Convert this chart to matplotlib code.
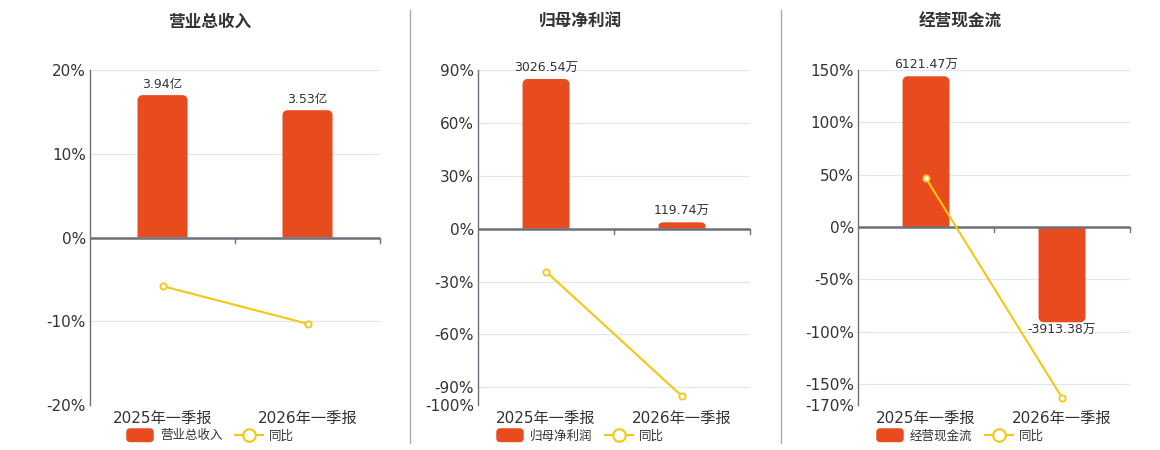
import numpy as np
import matplotlib
matplotlib.use("Agg")
import matplotlib.pyplot as plt
from matplotlib.patches import Polygon, FancyBboxPatch
from matplotlib.lines import Line2D
from matplotlib.legend_handler import HandlerPatch

plt.rcParams["font.family"] = ["DejaVu Sans", "Noto Sans CJK SC"]

categories = ["2025年一季报", "2026年一季报"]

titles = ["营业总收入", "归母净利润", "经营现金流"]
# bar heights as drawn on the percent axis, plus their value labels
bar_heights = [[17.0, 15.2], [84.9, 3.6], [144.0, -91.0]]
bar_labels = [["3.94亿", "3.53亿"], ["3026.54万", "119.74万"], ["6121.47万", "-3913.38万"]]
yoy = [[-5.8, -10.3], [-24.3, -95.0], [46.5, -163.0]]
yticks = [[-20, -10, 0, 10, 20],
          [-100, -90, -60, -30, 0, 30, 60, 90],
          [-170, -150, -100, -50, 0, 50, 100, 150]]

BAR = "#E84C1E"
LINE = "#F2C811"
AXIS = "#6E7079"
GRID = "#E0E6F1"
TEXT = "#333333"

W, H = 1160, 450
fig = plt.figure(figsize=(W / 100, H / 100), dpi=100)

boxes = [(90, 380), (478, 750), (858, 1130)]
centers = [210, 580, 960]
top_px, bot_px = 70, 405


def rounded_bar(x0, w, h, rx, ry):
    """bar from 0 to h with the far end rounded (rx, ry in data units)"""
    s = 1 if h >= 0 else -1
    ry = min(ry, abs(h) / 2)
    ang = np.linspace(0, np.pi / 2, 8)
    cy = h - s * ry
    pts = [(x0, 0)]
    cx = x0 + rx
    for a in ang:
        pts.append((cx - rx * np.cos(a), cy + s * ry * np.sin(a)))
    cx = x0 + w - rx
    for a in ang[::-1]:
        pts.append((cx + rx * np.cos(a), cy + s * ry * np.sin(a)))
    pts.append((x0 + w, 0))
    return pts


class RoundHandler(HandlerPatch):
    def create_artists(self, legend, orig_handle, xdescent, ydescent, width, height, fontsize, trans):
        p = FancyBboxPatch((-xdescent, -ydescent - 1), width, height + 2,
                           boxstyle="round,pad=0,rounding_size=3", fc=BAR, ec="none",
                           transform=trans)
        return [p]


for i in range(3):
    l, r = boxes[i]
    ax = fig.add_axes([l / W, 1 - bot_px / H, (r - l) / W, (bot_px - top_px) / H])
    ticks = yticks[i]
    ax.set_xlim(-0.5, 1.5)
    ax.set_ylim(ticks[0], ticks[-1])
    ax.set_yticks(ticks)
    ax.set_yticklabels([f"{t}%" for t in ticks], fontsize=11, color=TEXT)
    ax.set_xticks([0, 1])
    ax.set_xticklabels(categories, fontsize=11, color=TEXT)
    ax.tick_params(axis="x", length=0, pad=4)
    ax.tick_params(axis="y", length=0, pad=3)
    for s in ["top", "right", "bottom"]:
        ax.spines[s].set_visible(False)
    ax.spines["left"].set_color(AXIS)
    ax.spines["left"].set_linewidth(1.0)
    for t in ticks:
        if t != 0:
            ax.axhline(t, color=GRID, lw=0.8, zorder=0)
    ax.axhline(0, color=AXIS, lw=1.8, zorder=4)

    px_x = ax.bbox.width / 2.0
    px_y = ax.bbox.height / (ticks[-1] - ticks[0])
    for xb in [0.5, 1.5]:
        ax.plot([xb, xb], [0, -5 / px_y], color=AXIS, lw=1.0, zorder=4, clip_on=False)

    bw = 0.345
    rx = 5 / px_x
    ry = 5 / px_y
    for j, h in enumerate(bar_heights[i]):
        ax.add_patch(Polygon(rounded_bar(j - bw / 2, bw, h, rx, ry), closed=True,
                             fc=BAR, ec="none", zorder=2))
        if h >= 0:
            ax.text(j, h + 4 / px_y, bar_labels[i][j], ha="center", va="bottom",
                    fontsize=9, color=TEXT)
        else:
            ax.text(j, h - 2 / px_y, bar_labels[i][j], ha="center", va="top",
                    fontsize=9, color=TEXT)

    ax.plot([0, 1], yoy[i], color=LINE, lw=1.5, marker="o", markersize=4.5,
            markerfacecolor="white", markeredgecolor=LINE, markeredgewidth=1.3, zorder=5)

    fig.text(centers[i] / W, 1 - 22 / H, titles[i], ha="center", va="center",
             fontsize=12, fontweight="bold", color=TEXT, family="Noto Sans CJK SC")

    handles = [FancyBboxPatch((0, 0), 1, 1, fc=BAR),
               Line2D([0], [0], color=LINE, lw=1.5, marker="o", markersize=9,
                      markerfacecolor="white", markeredgecolor=LINE, markeredgewidth=1.5)]
    leg = fig.legend(handles, [titles[i], "同比"], loc="center",
                     bbox_to_anchor=(centers[i] / W, 1 - 436 / H), ncol=2, frameon=False,
                     fontsize=9, handlelength=2.2, handleheight=1.0, columnspacing=1.0,
                     handletextpad=0.5, borderpad=0,
                     handler_map={FancyBboxPatch: RoundHandler()})
    for t in leg.get_texts():
        t.set_color(TEXT)

for xd in [410, 781]:
    fig.add_artist(Line2D([xd / W, xd / W], [1 - 443 / H, 1 - 10 / H], color="#AAAAAA", lw=1.0))

fig.savefig("out.png", dpi=100)
